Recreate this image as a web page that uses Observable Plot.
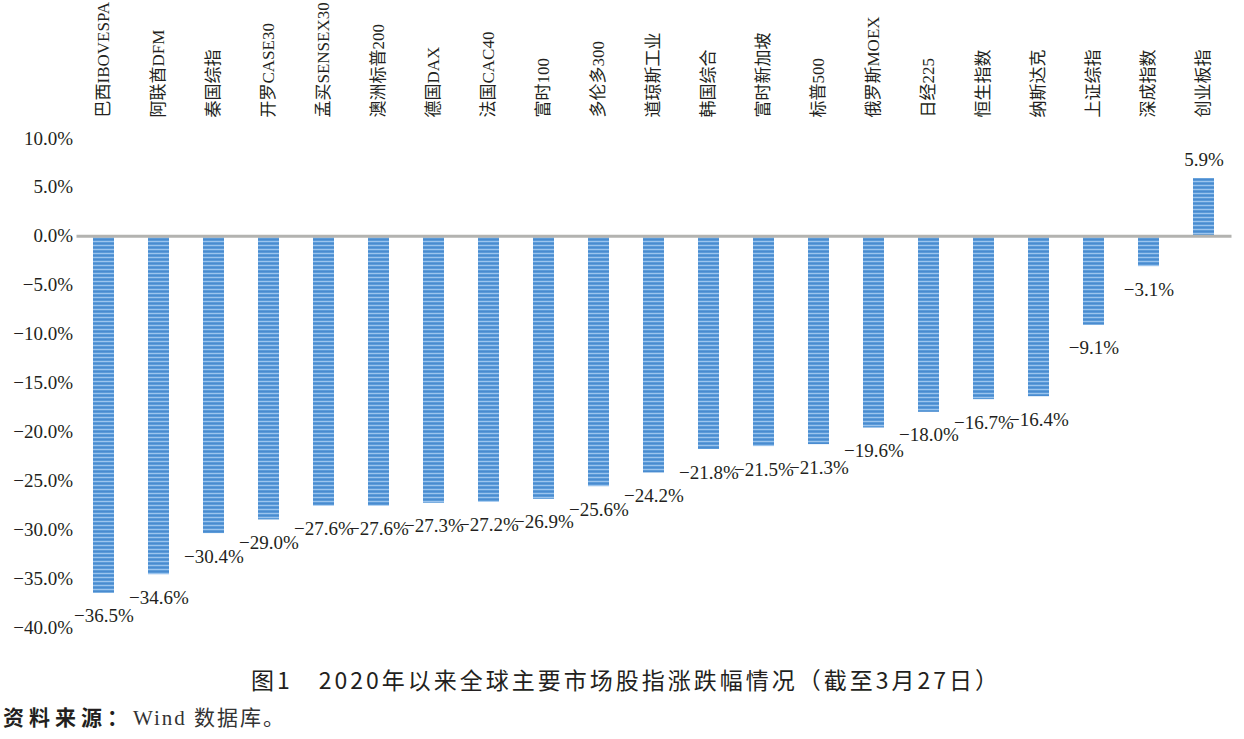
<!DOCTYPE html>
<html>
<head>
<meta charset="utf-8">
<script src="https://cdn.jsdelivr.net/npm/d3@7"></script>
<script src="https://cdn.jsdelivr.net/npm/@observablehq/plot@0.6"></script>
<style>
  body { margin: 0; background: #fff; width: 1244px; height: 739px; overflow: hidden; }
  #chart svg { display: block; }
  .caption { text-align: center; font-family: "Noto Sans CJK SC", sans-serif; font-size: 23px; color: #231f20; letter-spacing: 3px; margin-top: 16px; line-height: 26px; padding-left: 8px; }
  .source { font-size: 21px; color: #231f20; margin-top: 11px; padding-left: 3px; line-height: 26px; }
  .source b { font-family: "Noto Sans CJK SC", sans-serif; font-weight: 700; letter-spacing: 5px; }
  .source span { font-family: "Liberation Serif", "Noto Sans CJK SC", serif; color: #333; letter-spacing: 2px; }
</style>
</head>
<body>
<div id="chart"></div>
<div class="caption">图1　2020年以来全球主要市场股指涨跌幅情况（截至3月27日）</div>
<div class="source"><b>资料来源：</b><span>Wind 数据库。</span></div>
<script>
const categories = ["巴西IBOVESPA","阿联酋DFM","秦国综指","开罗CASE30","孟买SENSEX30","澳洲标普200","德国DAX","法国CAC40","富时100","多伦多300","道琼斯工业","韩国综合","富时新加坡","标普500","俄罗斯MOEX","日经225","恒生指数","纳斯达克","上证综指","深成指数","创业板指"];
const values = [-36.5,-34.6,-30.4,-29.0,-27.6,-27.6,-27.3,-27.2,-26.9,-25.6,-24.2,-21.8,-21.5,-21.3,-19.6,-18.0,-16.7,-16.4,-9.1,-3.1,5.9];
const yTicks = [10,5,0,-5,-10,-15,-20,-25,-30,-35,-40];

const data = categories.map((c, i) => ({category: c, value: values[i]}));
const fmt = v => (v < 0 ? "\u2212" : "") + Math.abs(v).toFixed(1) + "%";
const serif = "'Liberation Serif', 'Noto Sans CJK SC', serif";

const chart = Plot.plot({
  width: 1244,
  height: 650,
  marginTop: 138,
  marginBottom: 23,
  marginLeft: 76.5,
  marginRight: 12.5,
  style: {fontFamily: serif, color: "#231f20", background: "#fff"},
  x: {domain: categories, paddingInner: 0.618, paddingOuter: 0.309, axis: null},
  y: {domain: [-40, 10], axis: null},
  marks: [
    Plot.axisY({ticks: yTicks, tickFormat: fmt, tickSize: 0, tickPadding: 4, fontSize: 19, fill: "#231f20", label: null}),
    Plot.barY(data, {x: "category", y: "value", fill: "url(#stripes)"}),
    Plot.ruleY([0], {stroke: "#b3b3b0", strokeWidth: 3}),
    Plot.text(data, {x: "category", text: "category", frameAnchor: "top", dy: -21, rotate: -90, textAnchor: "start", lineAnchor: "middle", fontSize: 17, fill: "#231f20"}),
    Plot.text(data.filter(d => d.value < 0), {x: "category", y: "value", text: d => fmt(d.value), dy: 23, fontSize: 19, fill: "#231f20"}),
    Plot.text(data.filter(d => d.value >= 0), {x: "category", y: "value", text: d => fmt(d.value), dy: -19, fontSize: 19, fill: "#231f20"})
  ]
});

const svg = d3.select(chart.tagName.toLowerCase() === "svg" ? chart : chart.querySelector("svg"));
const defs = svg.insert("defs", ":first-child");
const pat = defs.append("pattern").attr("id", "stripes").attr("patternUnits", "userSpaceOnUse").attr("width", 8).attr("height", 4);
pat.append("rect").attr("width", 8).attr("height", 4).attr("fill", "#5b9bd8");
pat.append("rect").attr("y", 1).attr("width", 8).attr("height", 1).attr("fill", "#9cc4ee");
pat.append("rect").attr("y", 3).attr("width", 8).attr("height", 1).attr("fill", "#4a8bd0");
document.getElementById("chart").appendChild(chart);
</script>
</body>
</html>
